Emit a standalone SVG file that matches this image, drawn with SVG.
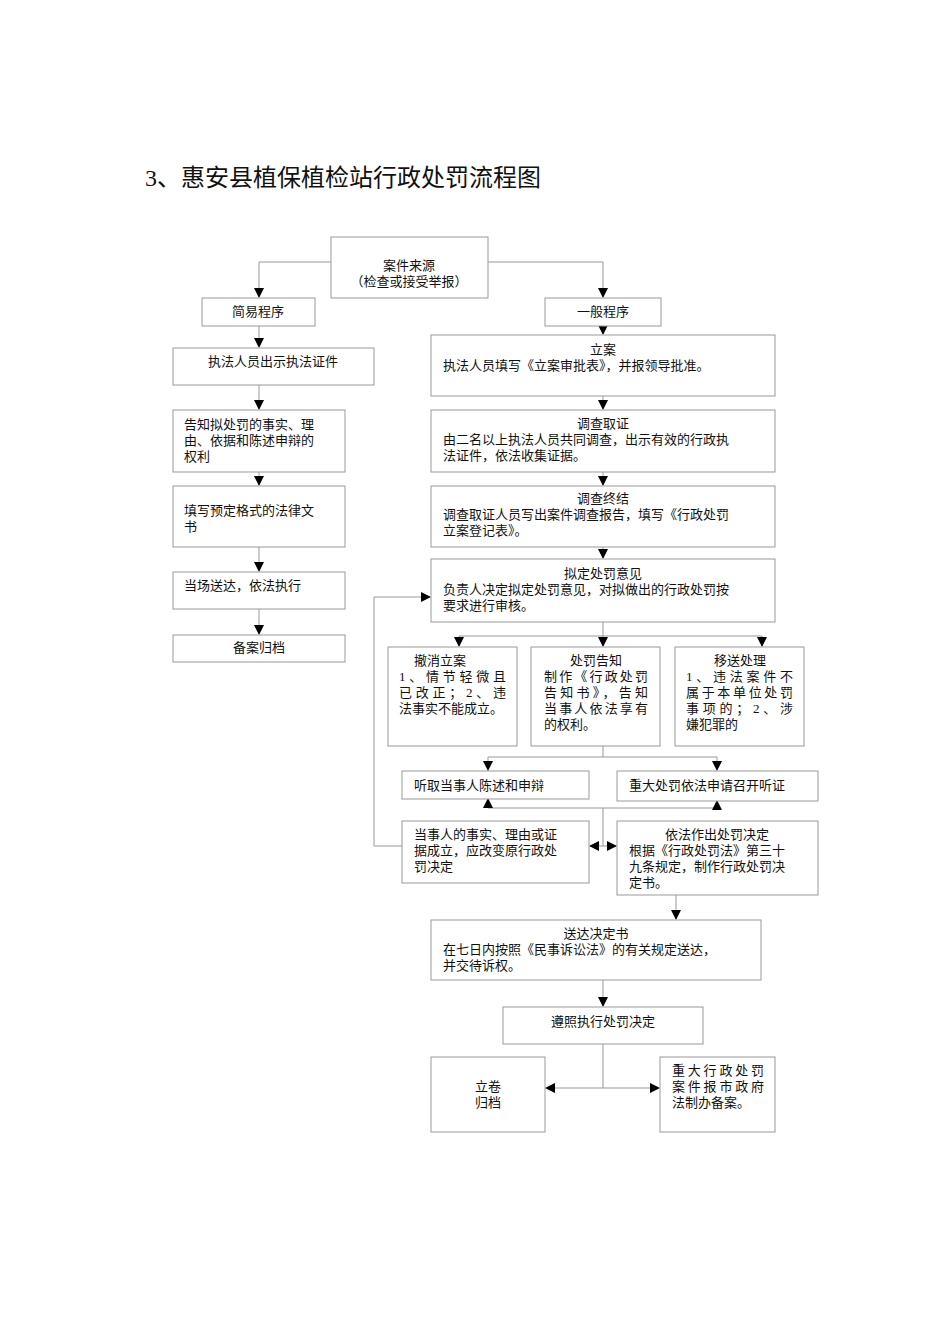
<svg xmlns="http://www.w3.org/2000/svg" width="950" height="1344" viewBox="0 0 950 1344">
<defs>
<marker id="a" markerWidth="10" markerHeight="10" refX="9" refY="5" orient="auto" markerUnits="userSpaceOnUse"><path d="M0,0 L10,5 L0,10 Z" fill="#000"/></marker>
<style>
rect{fill:#fff;stroke:#999;stroke-width:1}
text{font-family:"Liberation Serif","Noto Sans CJK SC",serif;font-size:13px;fill:#111}
.c{text-anchor:middle}
.l{fill:none;stroke:#999;stroke-width:1}
.ar{fill:none;stroke:#999;stroke-width:1;marker-end:url(#a)}
</style>
</defs>
<rect width="950" height="1344" style="fill:#fff;stroke:none"/>
<text x="145" y="186" style="font-size:24px">3、惠安县植保植检站行政处罚流程图</text>
<g id="connectors">
<path class="l" d="M331,262 H259"/><path class="ar" d="M259,262 V297"/>
<path class="l" d="M488,262 H603"/><path class="ar" d="M603,262 V297"/>
<path class="ar" d="M259,326 V347"/><path class="ar" d="M259,385 V409"/><path class="ar" d="M259,472 V485"/><path class="ar" d="M259,547 V571"/><path class="ar" d="M259,609 V634"/>
<path class="ar" d="M603,326 V334"/><path class="ar" d="M603,396 V409"/><path class="ar" d="M603,472 V485"/><path class="ar" d="M603,547 V558"/>
<path class="l" d="M603,622 V636 M459,636 H762"/>
<path class="ar" d="M459,636 V646"/><path class="ar" d="M603,636 V646"/><path class="ar" d="M762,636 V646"/>
<path class="l" d="M603,746 V757 M488,757 H717"/>
<path class="ar" d="M488,757 V770"/><path class="ar" d="M717,757 V770"/>
<path class="l" d="M488,808 H717 M603,808 V846"/>
<path class="ar" d="M488,808 V799"/><path class="ar" d="M717,808 V801"/>
<path class="ar" d="M603,846 H590"/><path class="ar" d="M603,846 H616"/>
<path class="l" d="M402,846 H374 V597"/><path class="ar" d="M374,597 H430"/>
<path class="ar" d="M676,895 V919"/>
<path class="ar" d="M603,980 V1006"/>
<path class="l" d="M603,1044 V1088"/>
<path class="ar" d="M603,1088 H546"/><path class="ar" d="M603,1088 H659"/>
</g>
<g id="n1"><rect x="331" y="237" width="157" height="61"/><text class="c" x="409" y="270">案件来源</text><text class="c" x="409" y="286">（检查或接受举报）</text></g>
<g id="n2"><rect x="202" y="298" width="113" height="28"/><text class="c" x="258" y="316">简易程序</text></g>
<g id="n3"><rect x="545" y="298" width="116" height="28"/><text class="c" x="603" y="316">一般程序</text></g>
<g id="n4"><rect x="173" y="348" width="201" height="37"/><text class="c" x="273" y="366">执法人员出示执法证件</text></g>
<g id="n5"><rect x="173" y="410" width="172" height="62"/><text x="184" y="429">告知拟处罚的事实、理</text><text x="184" y="445">由、依据和陈述申辩的</text><text x="184" y="461">权利</text></g>
<g id="n6"><rect x="173" y="486" width="172" height="61"/><text x="184" y="515">填写预定格式的法律文</text><text x="184" y="531">书</text></g>
<g id="n7"><rect x="173" y="572" width="172" height="37"/><text x="184" y="590">当场送达，依法执行</text></g>
<g id="n8"><rect x="173" y="635" width="172" height="27"/><text class="c" x="259" y="652">备案归档</text></g>
<g id="n9"><rect x="431" y="335" width="344" height="61"/><text class="c" x="603" y="354">立案</text><text x="443" y="370">执法人员填写《立案审批表》，并报领导批准。</text></g>
<g id="n10"><rect x="431" y="410" width="344" height="62"/><text class="c" x="603" y="428">调查取证</text><text x="443" y="444">由二名以上执法人员共同调查，出示有效的行政执</text><text x="443" y="460">法证件，依法收集证据。</text></g>
<g id="n11"><rect x="431" y="486" width="344" height="61"/><text class="c" x="603" y="503">调查终结</text><text x="443" y="519">调查取证人员写出案件调查报告，填写《行政处罚</text><text x="443" y="535">立案登记表》。</text></g>
<g id="n12"><rect x="431" y="559" width="344" height="63"/><text class="c" x="603" y="578">拟定处罚意见</text><text x="443" y="594">负责人决定拟定处罚意见，对拟做出的行政处罚按</text><text x="443" y="610">要求进行审核。</text></g>
<g id="n13"><rect x="388" y="647" width="129" height="99"/><text class="c" x="440" y="665">撤消立案</text><text x="399" y="681" textLength="107">1、情节轻微且</text><text x="399" y="697" textLength="107">已改正；2、违</text><text x="399" y="713">法事实不能成立。</text></g>
<g id="n14"><rect x="531" y="647" width="129" height="99"/><text class="c" x="596" y="665">处罚告知</text><text x="544" y="681" textLength="104">制作《行政处罚</text><text x="544" y="697" textLength="104">告知书》，告知</text><text x="544" y="713" textLength="104">当事人依法享有</text><text x="544" y="729">的权利。</text></g>
<g id="n15"><rect x="675" y="647" width="129" height="99"/><text class="c" x="740" y="665">移送处理</text><text x="686" y="681" textLength="107">1、违法案件不</text><text x="686" y="697" textLength="107">属于本单位处罚</text><text x="686" y="713" textLength="107">事项的；2、涉</text><text x="686" y="729">嫌犯罪的</text></g>
<g id="n16"><rect x="402" y="771" width="187" height="28"/><text x="414" y="790">听取当事人陈述和申辩</text></g>
<g id="n17"><rect x="617" y="771" width="201" height="30"/><text x="629" y="790">重大处罚依法申请召开听证</text></g>
<g id="n18"><rect x="402" y="821" width="187" height="62"/><text x="414" y="839">当事人的事实、理由或证</text><text x="414" y="855">据成立，应改变原行政处</text><text x="414" y="871">罚决定</text></g>
<g id="n19"><rect x="617" y="821" width="201" height="74"/><text class="c" x="717" y="839">依法作出处罚决定</text><text x="629" y="855">根据《行政处罚法》第三十</text><text x="629" y="871">九条规定，制作行政处罚决</text><text x="629" y="887">定书。</text></g>
<g id="n20"><rect x="431" y="920" width="330" height="60"/><text class="c" x="596" y="938">送达决定书</text><text x="443" y="954">在七日内按照《民事诉讼法》的有关规定送达，</text><text x="443" y="970">并交待诉权。</text></g>
<g id="n21"><rect x="503" y="1007" width="200" height="37"/><text class="c" x="603" y="1026">遵照执行处罚决定</text></g>
<g id="n22"><rect x="431" y="1057" width="114" height="75"/><text class="c" x="488" y="1091">立卷</text><text class="c" x="488" y="1107">归档</text></g>
<g id="n23"><rect x="660" y="1057" width="115" height="75"/><text x="672" y="1075" textLength="92">重大行政处罚</text><text x="672" y="1091" textLength="92">案件报市政府</text><text x="672" y="1107">法制办备案。</text></g>
</svg>
